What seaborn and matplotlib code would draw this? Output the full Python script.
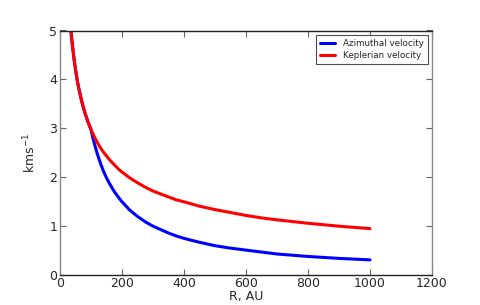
import pandas as pd
import matplotlib
matplotlib.use("Agg")
import matplotlib.pyplot as plt
import seaborn as sns

radius = [35, 40, 45, 50, 55, 60, 70, 80, 90, 100, 105, 110, 120, 130, 140, 150, 160,
          175, 190, 200, 225, 250, 275, 300, 325, 350, 375, 400, 450, 500, 550, 600,
          650, 700, 800, 900, 1000]
v_kepler = [5.00, 4.70, 4.43, 4.20, 4.00, 3.83, 3.55, 3.32, 3.13, 2.97, 2.90, 2.83,
            2.71, 2.60, 2.51, 2.43, 2.35, 2.25, 2.15, 2.10, 1.98, 1.88, 1.79, 1.71,
            1.65, 1.59, 1.53, 1.49, 1.40, 1.33, 1.27, 1.21, 1.16, 1.12, 1.05, 0.99, 0.94]
v_azimuthal = [5.00, 4.70, 4.43, 4.20, 4.00, 3.83, 3.55, 3.32, 3.13, 2.97, 2.83, 2.70,
               2.48, 2.29, 2.12, 1.98, 1.86, 1.70, 1.57, 1.49, 1.32, 1.19, 1.08, 0.99,
               0.92, 0.85, 0.79, 0.74, 0.66, 0.59, 0.54, 0.50, 0.46, 0.42, 0.37, 0.33, 0.30]
series_names = ["Azimuthal velocity", "Keplerian velocity"]

df = pd.concat([
    pd.DataFrame({"R": radius, "v": v_azimuthal, "series": series_names[0]}),
    pd.DataFrame({"R": radius, "v": v_kepler, "series": series_names[1]}),
])

sns.set_style("ticks", {"xtick.direction": "in", "ytick.direction": "in",
                        "xtick.top": True, "ytick.right": True})
plt.rcParams["font.family"] = ["DejaVu Sans"]

fig, ax = plt.subplots(figsize=(4.8, 3.05), dpi=100)
fig.subplots_adjust(left=0.125, right=0.9, top=0.9, bottom=0.1)
sns.lineplot(data=df, x="R", y="v", hue="series", palette=["#0000ff", "#ff0000"],
             linewidth=2.2, ax=ax)

ax.set_xlim(0, 1200)
ax.set_ylim(0, 5)
ax.set_xticks(range(0, 1201, 200))
ax.set_yticks(range(0, 6))
ax.tick_params(axis="both", which="major", direction="in", top=True, right=True,
               bottom=True, left=True, length=4, width=0.8, labelsize=9,
               color="#666666", pad=2)
for side in ["top", "bottom"]:
    ax.spines[side].set_color("#222222")
    ax.spines[side].set_linewidth(1.0)
for side in ["left", "right"]:
    ax.spines[side].set_color("#888888")
    ax.spines[side].set_linewidth(1.0)

ax.set_xlabel("R, AU", fontsize=9, labelpad=0)
ax.set_ylabel("kms$^{-1}$", fontsize=9, labelpad=8)
leg = ax.legend(loc="upper right", fontsize=6.3, frameon=True, fancybox=False,
                handlelength=1.7, borderpad=0.45, labelspacing=0.35, handletextpad=0.9,
                edgecolor="#222222", borderaxespad=0.5)
leg.get_frame().set_linewidth(0.8)
for line in leg.get_lines():
    line.set_linewidth(2.2)

plt.savefig("out.png", dpi=100)
